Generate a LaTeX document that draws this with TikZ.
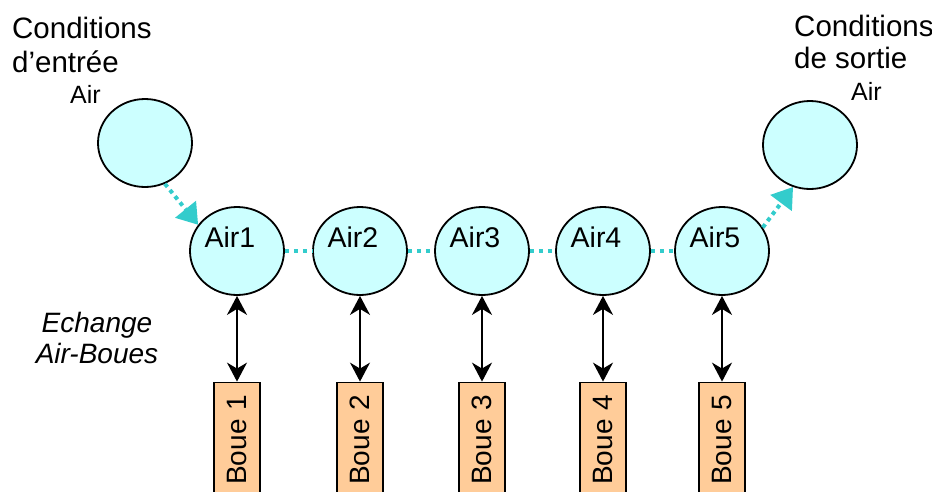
\documentclass[tikz,border=0pt]{standalone}
\usepackage{fontspec}
\setmainfont{Liberation Sans}
\usetikzlibrary{shapes.geometric,arrows.meta}
\definecolor{airfill}{HTML}{CCFFFF}
\definecolor{flow}{HTML}{33CCCC}
\definecolor{bouefill}{HTML}{FFCC99}
\begin{document}
\begin{tikzpicture}[x=1pt,y=-1pt,
  airnode/.style={ellipse, draw=black, line width=1.8pt, fill=airfill,
    minimum width=94pt, minimum height=88pt, inner sep=0pt},
  bouebox/.style={rectangle, draw=black, line width=1.8pt, fill=bouefill,
    rotate=90, text width=101pt, align=right, inner xsep=12pt, inner ysep=0pt,
    minimum height=46pt, font=\fontsize{28}{30}\selectfont},
  txt/.style={font=\fontsize{28.5}{30}\selectfont, inner sep=0pt},
  bigtxt/.style={font=\fontsize{29.5}{32}\selectfont, inner sep=0pt},
  smalltxt/.style={font=\fontsize{25}{28}\selectfont, inner sep=0pt},
  itxt/.style={font=\fontsize{28}{30}\selectfont\itshape, inner sep=0pt},
  chain/.style={draw=flow, line width=4pt, dash pattern=on 4pt off 5pt},
  flowarrow/.style={draw=flow, line width=4pt, dash pattern=on 4pt off 4pt,
    -{Triangle[length=20pt,width=26pt,fill=flow]}},
  exch/.style={draw=black, line width=1.8pt,
    {Stealth[length=19pt,width=20pt,inset=6pt]}-{Stealth[length=19pt,width=20pt,inset=6pt]}}
]
\useasboundingbox (0,0) rectangle (932,491);

% inlet / outlet circles
\node[airnode] (in) at (145,143) {};
\node[airnode] (out) at (810,145) {};

% air cells
\foreach \i/\x in {1/237,2/360,3/482,4/603,5/722}{
  \node[airnode, label={[txt, xshift=-7pt, yshift=14pt]center:Air\i}] (a\i) at (\x,251) {};
  \node[bouebox] (b\i) at (\x,445) {Boue \i};
  \draw[exch] (a\i.south) -- (b\i.east);
}

% chain between cells
\foreach \i/\j in {1/2,2/3,3/4,4/5}{
  \draw[chain] (a\i.east) -- (a\j.west);
}

% inlet and outlet flows
\draw[flowarrow] (in.-64) -- (a1.146);
\draw[flowarrow] (a5.30) -- (out.-112);

% labels
\node[bigtxt, anchor=base west] (cin1) at (12,38) {Conditions};
\node[bigtxt, anchor=base west] (cin2) at (12,72) {d’entrée};
\node[smalltxt, anchor=base west] (cin3) at (70,103) {Air};
\node[bigtxt, anchor=base west] (cout1) at (794,36) {Conditions};
\node[bigtxt, anchor=base west] (cout2) at (794,68) {de sortie};
\node[smalltxt, anchor=base west] (cout3) at (851,100) {Air};
\node[itxt, anchor=base] (ex1) at (97,332) {Echange};
\node[itxt, anchor=base] (ex2) at (97,363) {Air-Boues};
\end{tikzpicture}
\end{document}
